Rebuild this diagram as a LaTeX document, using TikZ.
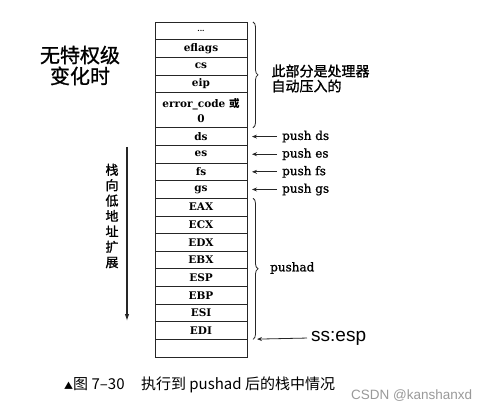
\documentclass[tikz,border=0pt]{standalone}
\usepackage{fontspec}
\setmainfont{DejaVu Serif}
\newfontfamily\cjk{Noto Sans CJK SC}
\newfontfamily\cjkheavy[FakeBold=1.2]{Noto Sans CJK SC}
\newfontfamily\lblfont[FakeBold=1]{DejaVu Serif}
\newfontfamily\espfont{Liberation Sans}
\usetikzlibrary{positioning,arrows.meta,decorations.pathreplacing}
\definecolor{inkgray}{gray}{0.15}
\definecolor{markgray}{gray}{0.6}

\begin{document}
\begin{tikzpicture}[x=1pt,y=1pt,
    cell/.style={draw=inkgray,line width=0.7pt,minimum width=92pt,minimum height=17.63pt,inner sep=0pt,outer sep=0pt,font=\bfseries\fontsize{10.5}{12}\selectfont},
    pushlbl/.style={anchor=west,inner sep=2pt,font=\lblfont\fontsize{12}{14}\selectfont},
    pusharrow/.style={-{Stealth[length=5pt,width=4pt]},line width=0.8pt,inkgray,shorten >=5pt,shorten <=3pt},
    grpbrace/.style={decorate,decoration={brace,amplitude=5pt},line width=0.8pt,inkgray}
  ]
    \useasboundingbox (0,0) rectangle (492,-411);

    % Stack cells from top to bottom
    \node[cell] (dots) at (201,-30.8) {\fontsize{7}{8}\selectfont ...};
    \node[cell,below=0pt of dots] (eflags) {eflags};
    \node[cell,below=0pt of eflags] (cs) {cs};
    \node[cell,below=0pt of cs] (eip) {eip};
    \node[cell,below=0pt of eip,minimum height=35.26pt,align=center] (errcode) {error\_code {\cjk 或}\\[3pt]0};
    \node[cell,below=0pt of errcode] (ds) {ds};
    \node[cell,below=0pt of ds] (es) {es};
    \node[cell,below=0pt of es] (fs) {fs};
    \node[cell,below=0pt of fs] (gs) {gs};
    \node[cell,below=0pt of gs] (eax) {EAX};
    \node[cell,below=0pt of eax] (ecx) {ECX};
    \node[cell,below=0pt of ecx] (edx) {EDX};
    \node[cell,below=0pt of edx] (ebx) {EBX};
    \node[cell,below=0pt of ebx] (esp) {ESP};
    \node[cell,below=0pt of esp] (ebp) {EBP};
    \node[cell,below=0pt of ebp] (esi) {ESI};
    \node[cell,below=0pt of esi] (edi) {EDI};
    \node[cell,below=0pt of edi] (blank) {};

    % Title and growth direction
    \node[font=\cjkheavy\fontsize{20}{21}\selectfont,align=center] (title) at (80,-65.5) {无特权级\\变化时};
    \node[font=\cjkheavy\fontsize{13}{15.4}\selectfont,align=center] (growlbl) at (112,-216) {栈\\向\\低\\地\\址\\扩\\展};
    \coordinate (growtop) at (127,-147);
    \coordinate (growbot) at (127,-321);
    \draw[-{Latex[length=7pt,width=4.5pt]},line width=1.1pt,inkgray] (growtop) -- (growbot);

    % Pushed by the processor
    \draw[grpbrace] ([xshift=6pt]dots.north east) -- ([xshift=6pt]errcode.south east);
    \node[anchor=west,align=left,font=\cjkheavy\fontsize{14}{15}\selectfont] (autolbl) at (268,-78.5) {此部分是处理器\\自动压入的};

    % Segment register pushes
    \node[pushlbl,right=33pt of ds] (pds) {push ds};
    \node[pushlbl,right=33pt of es] (pes) {push es};
    \node[pushlbl,right=33pt of fs] (pfs) {push fs};
    \node[pushlbl,right=33pt of gs] (pgs) {push gs};
    \draw[pusharrow] (pds.west) -- (ds.east);
    \draw[pusharrow] (pes.west) -- (es.east);
    \draw[pusharrow] (pfs.west) -- (fs.east);
    \draw[pusharrow] (pgs.west) -- (gs.east);

    % pushad group
    \draw[grpbrace] ([xshift=6pt]eax.north east) -- ([xshift=6pt]edi.south east);
    \node[pushlbl] (pushad) at (268,-268) {pushad};

    % Stack pointer
    \node[anchor=west,inner sep=2pt,font=\espfont\fontsize{19}{21}\selectfont] (ssesp) at (309,-338) {ss:esp};
    \draw[pusharrow,shorten >=10pt,shorten <=2pt] (ssesp.west) -- (edi.south east);

    % Caption and watermark
    \node[anchor=west,inner sep=0pt,font=\cjk\fontsize{15}{17}\selectfont] (caption) at (64,-385) {{\fontsize{9}{10}\selectfont ▲}图 7–30\hspace{1.1em}执行到 pushad 后的栈中情况};
    \node[anchor=west,inner sep=0pt,text=markgray,font=\espfont\fontsize{13.5}{15}\selectfont] (mark) at (351,-396) {CSDN @kanshanxd};
\end{tikzpicture}
\end{document}
